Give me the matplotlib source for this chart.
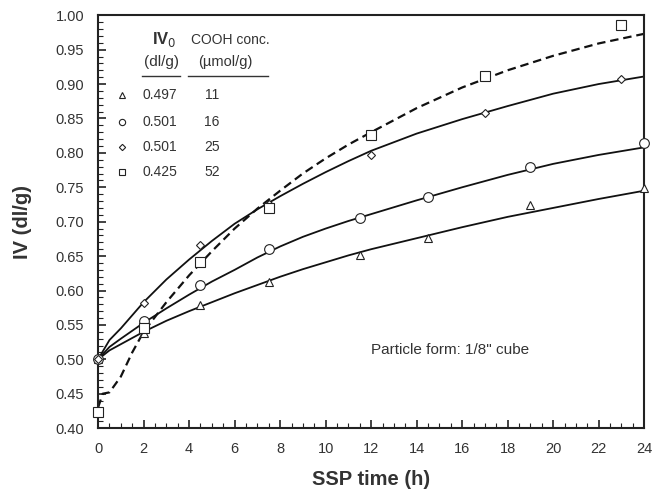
import matplotlib.pyplot as plt
from matplotlib.ticker import MultipleLocator

plt.rcParams['font.family'] = ['Liberation Sans', 'DejaVu Sans']

# measured points (SSP time h, IV dl/g)
t_a = [0, 2, 4.5, 7.5, 11.5, 14.5, 19, 24]
iv_tri = [0.500, 0.538, 0.579, 0.612, 0.651, 0.676, 0.724, 0.749]
iv_circ = [0.500, 0.555, 0.608, 0.660, 0.705, 0.736, 0.779, 0.814]
t_b = [0, 2, 4.5, 7.5, 12, 17, 23]
iv_dia = [0.500, 0.582, 0.666, 0.725, 0.797, 0.858, 0.907]
iv_sq = [0.423, 0.545, 0.641, 0.720, 0.826, 0.911, 0.986]

# fitted curves
t_fit = [0, 0.5, 1, 2, 3, 4, 5, 6, 7, 8, 9, 10, 11, 12, 14, 16, 18, 20, 22, 24]
fit_tri = [0.500, 0.513, 0.522, 0.540, 0.556, 0.570, 0.583, 0.596, 0.608, 0.620,
           0.631, 0.641, 0.651, 0.660, 0.676, 0.692, 0.707, 0.720, 0.733, 0.745]
fit_circ = [0.500, 0.518, 0.530, 0.553, 0.574, 0.594, 0.613, 0.630, 0.648, 0.664,
            0.678, 0.690, 0.701, 0.711, 0.731, 0.750, 0.768, 0.784, 0.797, 0.808]
fit_dia = [0.500, 0.528, 0.545, 0.583, 0.616, 0.645, 0.672, 0.697, 0.718, 0.737,
           0.755, 0.772, 0.788, 0.803, 0.828, 0.849, 0.868, 0.886, 0.900, 0.911]
t_dash = [0, 0.2, 0.5, 1, 1.5, 2, 3, 4, 5, 6, 7, 8, 9, 10, 11, 12, 14, 16, 18, 20, 22, 24]
fit_sq = [0.430, 0.450, 0.452, 0.475, 0.510, 0.540, 0.583, 0.622, 0.657, 0.690,
          0.719, 0.745, 0.770, 0.792, 0.812, 0.830, 0.865, 0.895, 0.920, 0.941,
          0.959, 0.973]

# legend table
iv0 = ['0.497', '0.501', '0.501', '0.425']
cooh = ['11', '16', '25', '52']
marks = ['^', 'o', 'D', 's']
legend_ms = [4.5, 4.5, 3.2, 5]

fig = plt.figure(figsize=(6.54, 4.91), dpi=100)
ax = fig.add_axes([0.150, 0.128, 0.835, 0.841])

lc = '#111111'
ax.plot(t_fit, fit_tri, color=lc, lw=1.3)
ax.plot(t_fit, fit_circ, color=lc, lw=1.3)
ax.plot(t_fit, fit_dia, color=lc, lw=1.3)
ax.plot(t_dash, fit_sq, color=lc, lw=1.6, dashes=(3.8, 2.2))

mk = dict(ls='none', mfc='white', mec='#222222', mew=0.8, clip_on=False, zorder=3)
ax.plot(t_a, iv_tri, marker='^', ms=6, **mk)
ax.plot(t_a, iv_circ, marker='o', ms=7, **mk)
ax.plot(t_b, iv_dia, marker='D', ms=4.5, **mk)
ax.plot(t_b, iv_sq, marker='s', ms=7, **mk)

# table legend
gray = '#333333'
rows_y = [0.884, 0.845, 0.808, 0.772]
for y, m, s, a, c in zip(rows_y, marks, legend_ms, iv0, cooh):
    ax.plot(1.05, y, marker=m, ms=s, **mk)
    ax.text(1.95, y, a, fontsize=10, color=gray, va='center', ha='left')
    ax.text(5.0, y, c, fontsize=10, color=gray, va='center', ha='center')
ax.text(2.37, 0.964, r'IV$_0$', fontsize=12, fontweight='bold', color=gray,
        ha='left', va='center')
ax.text(2.8, 0.932, '(dl/g)', fontsize=11, color=gray, ha='center', va='center')
ax.text(5.8, 0.964, 'COOH conc.', fontsize=10, color=gray, ha='center', va='center')
ax.text(5.6, 0.932, '(\u00b5mol/g)', fontsize=10.5, color=gray, ha='center', va='center')
ax.plot([1.93, 3.6], [0.911, 0.911], color=gray, lw=1)
ax.plot([3.96, 7.47], [0.911, 0.911], color=gray, lw=1)

ax.text(12.0, 0.513, 'Particle form: 1/8" cube', fontsize=11, color=gray,
        ha='left', va='center')

ax.set_xlim(0, 24)
ax.set_ylim(0.40, 1.00)
ax.xaxis.set_major_locator(MultipleLocator(2))
ax.xaxis.set_minor_locator(MultipleLocator(0.5))
ax.yaxis.set_major_locator(MultipleLocator(0.05))
ax.yaxis.set_minor_locator(MultipleLocator(0.01))
ax.yaxis.set_major_formatter(plt.FormatStrFormatter('%.2f'))
ax.tick_params(which='both', direction='in', top=False, right=False,
               labelsize=10.5, labelcolor=gray, color='#222222')
ax.tick_params(which='major', length=6, width=1.2, pad=10)
ax.tick_params(which='minor', length=3.5, width=0.8)
for sp in ax.spines.values():
    sp.set_linewidth(1.5)
    sp.set_color('#222222')

ax.set_xlabel('SSP time (h)', fontsize=14.5, fontweight='bold', color=gray, labelpad=10)
ax.set_ylabel('IV (dl/g)', fontsize=14.5, fontweight='bold', color=gray, labelpad=17)

fig.savefig('out.png', dpi=100)
